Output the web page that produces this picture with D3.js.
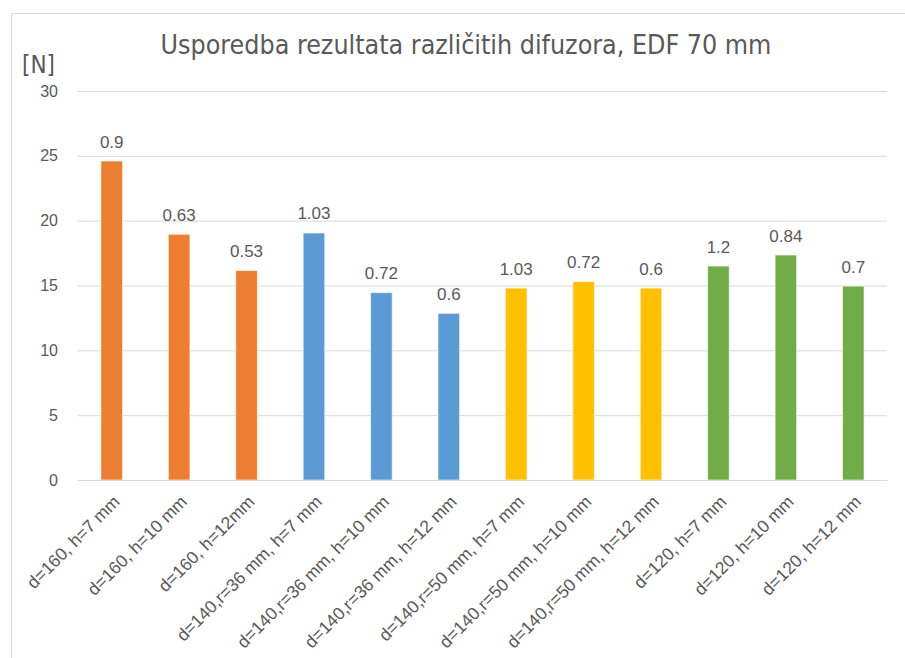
<!DOCTYPE html>
<html>
<head>
<meta charset="utf-8">
<script src="https://cdn.jsdelivr.net/npm/d3@7/dist/d3.min.js"></script>
<style>
  html, body { margin: 0; padding: 0; background: #fff; }
  svg { display: block; }
</style>
</head>
<body>
<svg id="chart" width="905" height="658"></svg>
<script>
// Thrust comparison of diffuser variants (EDF 70 mm)
const categories = [
  "d=160, h=7 mm", "d=160, h=10 mm", "d=160, h=12mm",
  "d=140,r=36 mm, h=7 mm", "d=140,r=36 mm, h=10 mm", "d=140,r=36 mm, h=12 mm",
  "d=140,r=50 mm, h=7 mm", "d=140,r=50 mm, h=10 mm", "d=140,r=50 mm, h=12 mm",
  "d=120, h=7 mm", "d=120, h=10 mm", "d=120, h=12 mm"
];
const thrust = [24.6, 18.95, 16.15, 19.05, 14.45, 12.85, 14.8, 15.3, 14.8, 16.5, 17.35, 14.95];
const barLabels = ["0.9", "0.63", "0.53", "1.03", "0.72", "0.6", "1.03", "0.72", "0.6", "1.2", "0.84", "0.7"];
const groups = ["d160", "d160", "d160", "r36", "r36", "r36", "r50", "r50", "r50", "d120", "d120", "d120"];
const groupNames = ["d160", "r36", "r50", "d120"];
const groupColors = ["#ED7D31", "#5B9BD5", "#FFC000", "#70AD47"];
const yTicks = [0, 5, 10, 15, 20, 25, 30];

const svg = d3.select("#chart");
const textColor = "#595959";
const gridColor = "#D9D9D9";

// chart frame
svg.append("rect")
  .attr("x", 11.5).attr("y", 13.5)
  .attr("width", 905).attr("height", 660)
  .attr("fill", "#fff").attr("stroke", gridColor).attr("stroke-width", 1);

const plot = { left: 78, right: 887, top: 91, bottom: 480 };

const x = d3.scaleBand()
  .domain(categories)
  .range([plot.left, plot.right])
  .paddingInner(0.68).paddingOuter(0.34);

const y = d3.scaleLinear().domain([0, 30]).range([plot.bottom, plot.top]);
const color = d3.scaleOrdinal().domain(groupNames).range(groupColors);

// horizontal gridlines and tick labels
const yAxis = d3.axisLeft(y).tickValues(yTicks)
  .tickSize(-(plot.right - plot.left)).tickPadding(20);
const gy = svg.append("g").attr("transform", `translate(${plot.left},0)`).call(yAxis);
gy.select(".domain").remove();
gy.selectAll(".tick line").attr("stroke", gridColor).attr("stroke-width", 1);
gy.selectAll(".tick text")
  .attr("fill", textColor)
  .style("font-family", "'Liberation Sans', Arial, sans-serif")
  .style("font-size", "16px");

// bars
svg.append("g").selectAll("rect")
  .data(categories)
  .join("rect")
  .attr("x", d => x(d))
  .attr("width", x.bandwidth())
  .attr("y", (d, i) => y(thrust[i]))
  .attr("height", (d, i) => y(0) - y(thrust[i]))
  .attr("fill", (d, i) => color(groups[i]))
  .attr("stroke", "#fff").attr("stroke-opacity", 0.6).attr("stroke-width", 1);

// category axis line
const xAxis = d3.axisBottom(x).tickSize(0).tickFormat("");
const gx = svg.append("g").attr("transform", `translate(0,${plot.bottom})`).call(xAxis);
gx.select(".domain").attr("stroke", gridColor);

// rotated category labels
svg.append("g").selectAll("text")
  .data(categories)
  .join("text")
  .attr("transform", d => `translate(${x(d) + x.bandwidth() / 2 + 9},${plot.bottom + 23}) rotate(-45)`)
  .attr("text-anchor", "end")
  .attr("fill", textColor)
  .style("font-family", "'Liberation Sans', Arial, sans-serif")
  .style("font-size", "17.5px")
  .text(d => d);

// value labels above bars
svg.append("g").selectAll("text")
  .data(categories)
  .join("text")
  .attr("x", d => x(d) + x.bandwidth() / 2)
  .attr("y", (d, i) => y(thrust[i]) - 13.5)
  .attr("text-anchor", "middle")
  .attr("fill", textColor)
  .style("font-family", "'Liberation Sans', Arial, sans-serif")
  .style("font-size", "17px")
  .text((d, i) => barLabels[i]);

// title
const title = svg.append("text")
  .attr("x", 466).attr("y", 54)
  .attr("text-anchor", "middle")
  .attr("fill", textColor)
  .style("font-family", "'Liberation Sans Narrow', 'DejaVu Sans Condensed', sans-serif")
  .style("font-size", "27px")
  .text("Usporedba rezultata različitih difuzora, EDF 70 mm");
const tw = title.node().getComputedTextLength();
if (tw > 0) title.style("font-size", (27 * 611 / tw).toFixed(2) + "px");

// unit label
svg.append("text")
  .attr("x", 22).attr("y", 73)
  .attr("fill", textColor)
  .style("font-family", "'Liberation Sans Narrow', 'DejaVu Sans Condensed', sans-serif")
  .style("font-size", "24px")
  .text("[N]");
</script>
</body>
</html>
